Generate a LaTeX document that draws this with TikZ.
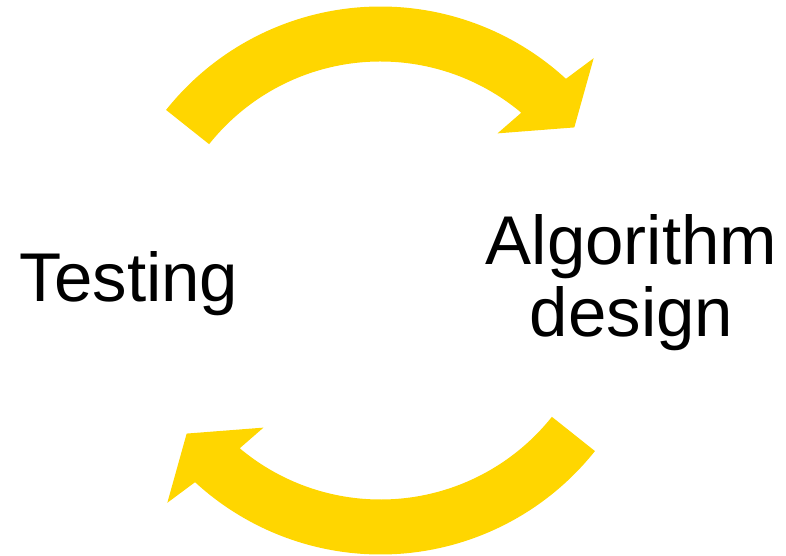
\documentclass[tikz,border=0pt]{standalone}
\usepackage{fontspec}
\setmainfont{Liberation Sans}
\usepackage{xcolor}
\usepackage{tikz}
\definecolor{cyclegold}{RGB}{255,214,0}
\tikzset{
cyclearrow/.style={fill=cyclegold, draw=none},
stage/.style={font=\fontsize{69pt}{72pt}\selectfont, inner sep=0pt, align=center},
}

\begin{document}
\begin{tikzpicture}[x=1pt,y=1pt]
\useasboundingbox (-380.5,-275.5) rectangle (405.5,280.5);
\coordinate (ctr) at (0,0);
\node[stage, anchor=base] (test) at (-251.5,-21.2) {Testing};
\node[stage, anchor=base] (design) at (251,-56.2) {Algorithm\\design};
% the cycle arrows
\foreach \r in {0,180}
{
  \begin{scope}[shift={(ctr)}, rotate=\r]
    \fill[cyclearrow] (141.5:274pt) arc[start angle=141.5, end angle=47.4, radius=274pt]
      -- (46.2:308pt) -- (38.3:247pt) -- (51.5:188pt) -- (50:219pt)
      arc[start angle=50, end angle=141.5, radius=219pt] -- cycle;
  \end{scope}
}
\end{tikzpicture}
\end{document}
